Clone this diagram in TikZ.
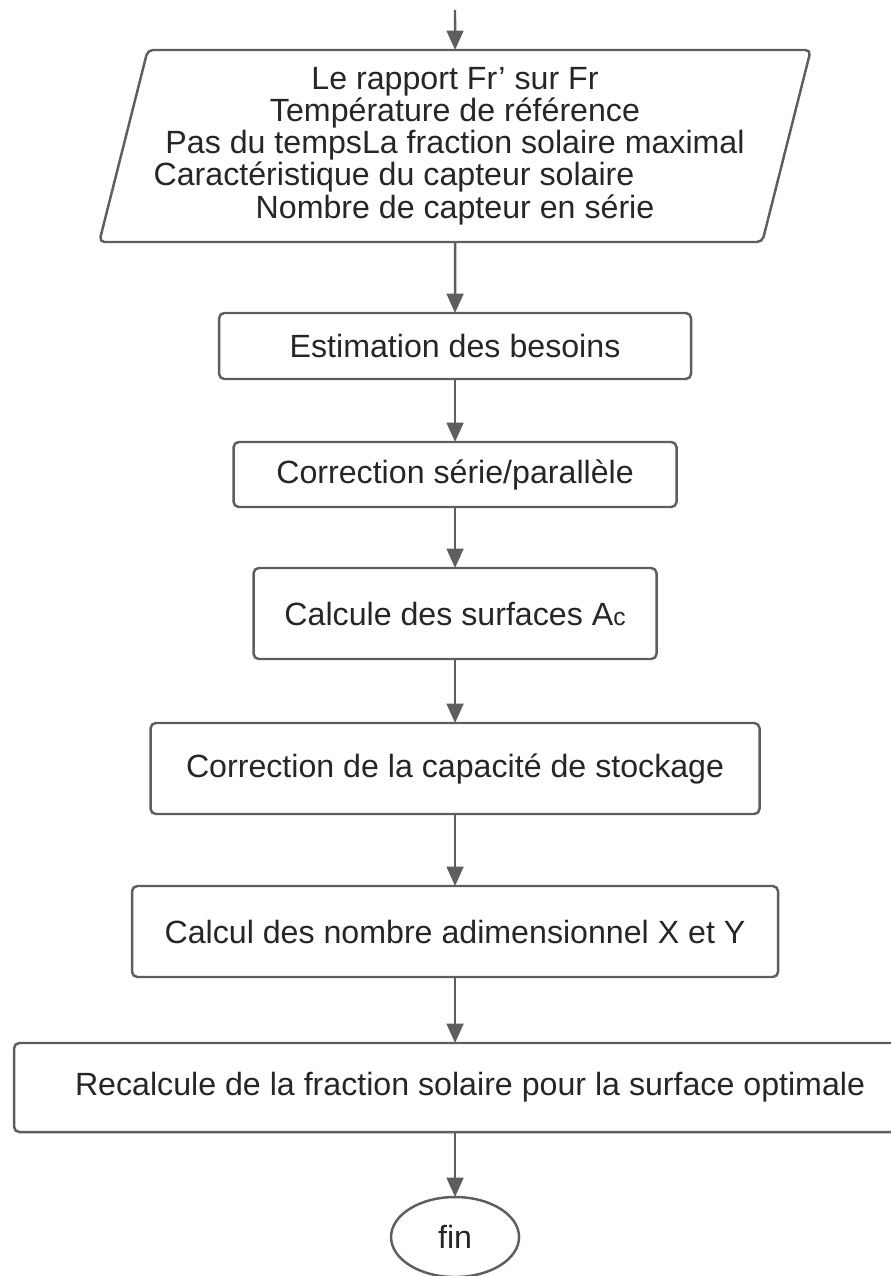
\documentclass[tikz,border=0pt]{standalone}
\usepackage{fontspec}
\setmainfont{Liberation Sans}
\usepackage{tikz}
\usetikzlibrary{shapes, shapes.geometric, arrows.meta}

\definecolor{lineGray}{HTML}{5E5E5E}
\definecolor{textGray}{HTML}{262626}
\newcommand{\flowFont}{\fontsize{18.3}{18.3}\selectfont}

\begin{document}
\begin{tikzpicture}[
    procBox/.style={draw=lineGray, line width=1.4pt, rounded corners=3pt, outer sep=0pt},
    inputShape/.style={trapezium, trapezium stretches=true, trapezium left angle=74,
        trapezium right angle=106, draw=lineGray, line width=1.4pt, rounded corners=3pt, outer sep=0pt},
    endShape/.style={ellipse, draw=lineGray, line width=1.4pt, outer sep=0pt,
        minimum width=2.56cm, minimum height=1.6cm},
    flowArrow/.style={->, >={Triangle[length=11pt, width=9.5pt]}, draw=lineGray, line width=1.4pt},
    every node/.style={
        text centered, align=center, text=textGray, font=\flowFont,
        }
        ]
    \useasboundingbox (0, 0) rectangle (17.8, -25.52);

    \coordinate (start) at (9.1, -0.2);
    \node[inputShape, minimum width=14.08cm, minimum height=3.84cm] (data) at (9.1, -2.92)
        {Le rapport Fr’ sur Fr\\
         Température de référence\\
         Pas du tempsLa fraction solaire maximal\\
         Caractéristique du capteur solaire\rule{2.44cm}{0pt}\\
         Nombre de capteur en série};

    \node[procBox, anchor=north, minimum width=9.44cm, minimum height=1.32cm, yshift=-1.42cm] (besoins) at (data.south) {Estimation des besoins};
    \node[procBox, anchor=north, minimum width=8.86cm, minimum height=1.30cm, yshift=-1.26cm] (serie) at (besoins.south) {Correction série/parallèle};
    \node[procBox, anchor=north, minimum width=8.06cm, minimum height=1.82cm, yshift=-1.22cm] (surface) at (serie.south) {Calcule des surfaces A{\fontsize{14}{14}\selectfont c}};
    \node[procBox, anchor=north, minimum width=12.18cm, minimum height=1.82cm, yshift=-1.28cm] (stockage) at (surface.south) {Correction de la capacité de stockage};
    \node[procBox, anchor=north, minimum width=12.92cm, minimum height=1.82cm, yshift=-1.44cm] (adim) at (stockage.south) {Calcul des nombre adimensionnel X et Y};
    \node[procBox, anchor=north, minimum width=18cm, minimum height=1.78cm, yshift=-1.32cm, xshift=0.18cm] (recalc) at (adim.south) {\hspace*{0.24cm}Recalcule de la fraction solaire pour la surface optimale};
    \node[endShape, anchor=north, yshift=-1.30cm] (fin) at (recalc.south -| adim.south) {fin};

    \draw[flowArrow] (start) -- (data);
    \draw[flowArrow] (data) -- (besoins);
    \draw[flowArrow] (besoins) -- (serie);
    \draw[flowArrow] (serie) -- (surface);
    \draw[flowArrow] (surface) -- (stockage);
    \draw[flowArrow] (stockage) -- (adim);
    \draw[flowArrow] (adim) -- (recalc.north -| adim.south);
    \draw[flowArrow] (recalc.south -| fin.north) -- (fin);
\end{tikzpicture}
\end{document}
